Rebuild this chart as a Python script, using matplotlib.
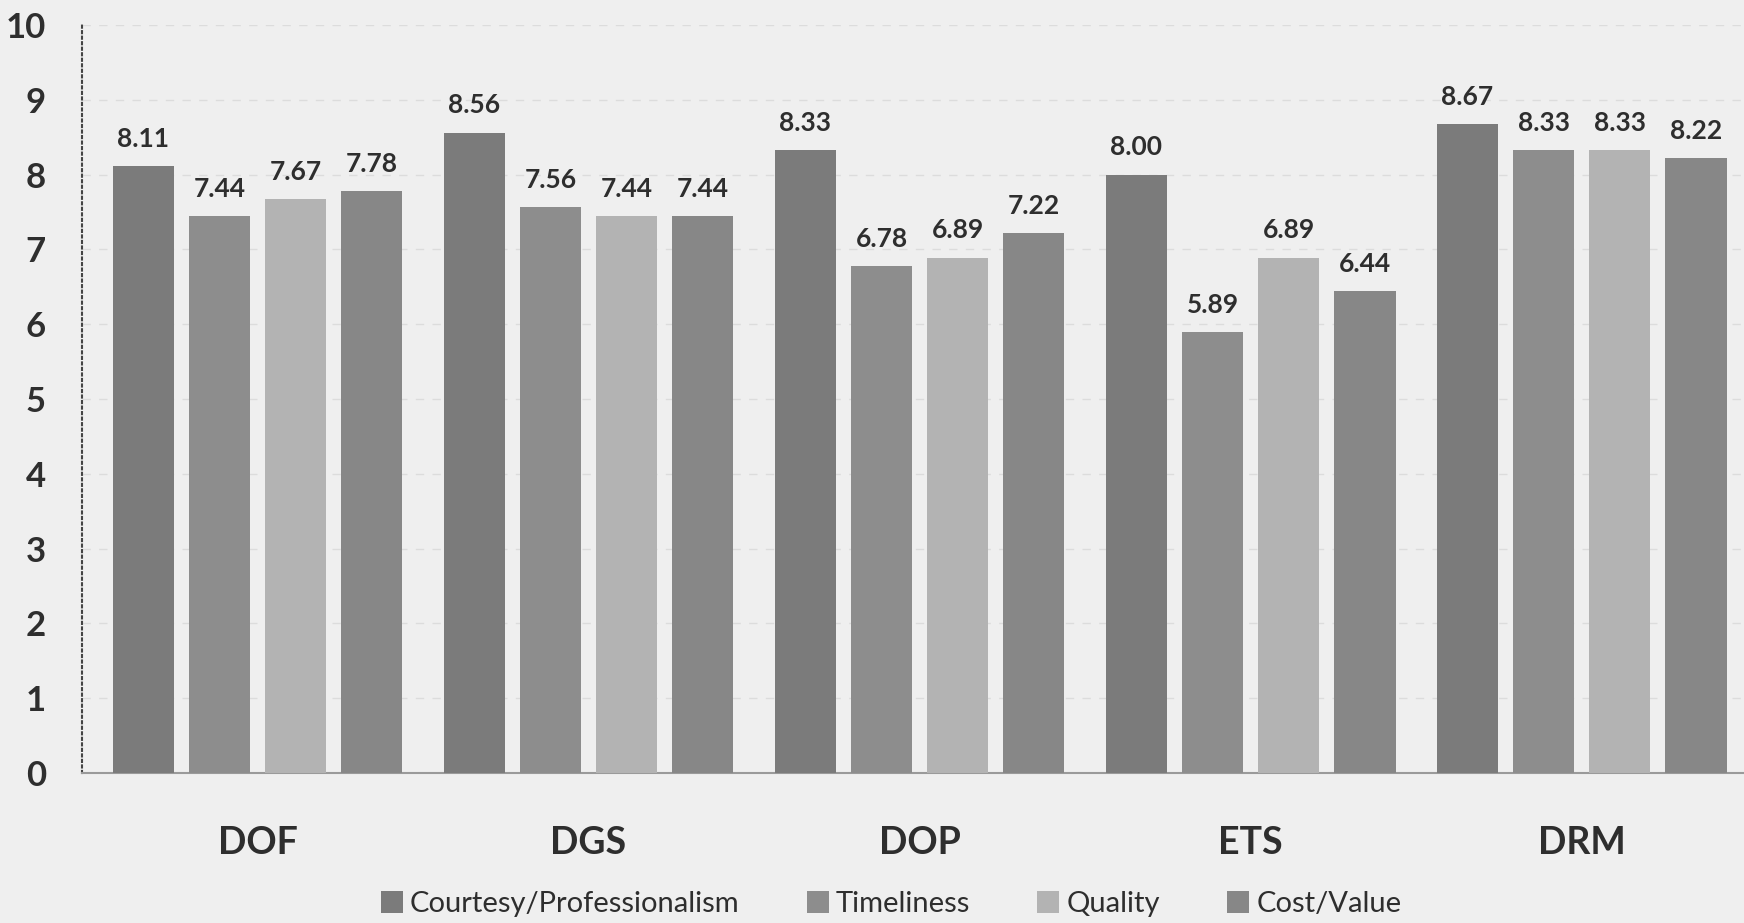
import numpy as np
import matplotlib.pyplot as plt

# data
departments = ['DOF', 'DGS', 'DOP', 'ETS', 'DRM']
series_names = ['Courtesy/Professionalism', 'Timeliness', 'Quality', 'Cost/Value']
courtesy = [8.11, 8.56, 8.33, 8.00, 8.67]
timeliness = [7.44, 7.56, 6.78, 5.89, 8.33]
quality = [7.67, 7.44, 6.89, 6.89, 8.33]
cost_value = [7.78, 7.44, 7.22, 6.44, 8.22]
y_ticks = list(range(0, 11))

colors = ['#7b7b7b', '#8d8d8d', '#b3b3b3', '#878787']
text_col = '#2e2e2e'
bg = '#efefef'

plt.rcParams['font.family'] = ['Lato', 'DejaVu Sans']

fig = plt.figure(figsize=(17.44, 9.23), dpi=100, facecolor=bg)
ax = fig.add_axes([0.047, 0.1625, 0.953, 0.8105])
ax.set_facecolor(bg)

x = np.arange(len(departments))
step = 0.23
width = 0.185
all_series = [courtesy, timeliness, quality, cost_value]
for i, (vals, name) in enumerate(zip(all_series, series_names)):
    pos = x + (i - 1.5) * step
    bars = ax.bar(pos, vals, width, color=colors[i], label=name, zorder=3)
    for b, v in zip(bars, vals):
        ax.annotate(f'{v:.2f}', (b.get_x() + b.get_width() / 2, v),
                    xytext=(0, 11), textcoords='offset points',
                    ha='center', va='bottom', fontsize=19, fontweight='bold',
                    color=text_col)

ax.set_ylim(0, 10)
ax.set_xlim(-0.53, 4.49)
ax.set_yticks(y_ticks)
ax.set_yticklabels([str(t) for t in y_ticks], fontsize=25, fontweight='bold', color=text_col)
ax.set_xticks(x)
ax.set_xticklabels(departments, fontsize=27, fontweight='bold', color=text_col)
ax.tick_params(axis='y', length=0, pad=26)
ax.tick_params(axis='x', length=0, pad=38)

ax.yaxis.grid(True, linestyle=(0, (6, 6)), color='#dcdcdc', linewidth=1, zorder=0)
for s in ['top', 'right']:
    ax.spines[s].set_visible(False)
ax.spines['left'].set_linestyle(':')
ax.spines['left'].set_color('#444444')
ax.spines['left'].set_linewidth(1.5)
ax.spines['bottom'].set_color('#9a9a9a')
ax.spines['bottom'].set_linewidth(1.5)

leg = fig.legend(loc='lower center', bbox_to_anchor=(0.511, -0.022), ncol=4,
                 frameon=False, fontsize=21, handlelength=0.75, handleheight=0.75,
                 handletextpad=0.25, columnspacing=2.3)
for t in leg.get_texts():
    t.set_color(text_col)

fig.savefig('out.png', dpi=100, facecolor=bg)
